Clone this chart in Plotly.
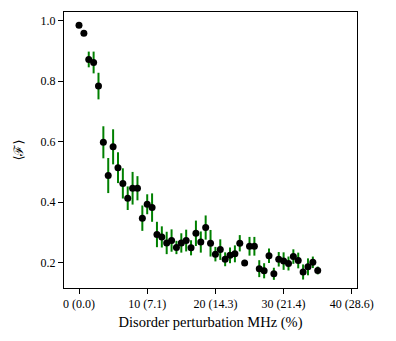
import plotly.graph_objects as go

# Disorder perturbation index (50 steps, 0 .. 35 MHz)
n_points = 50
x_max_mhz = 35.0
x_mhz = [k * x_max_mhz / (n_points - 1) for k in range(n_points)]

fidelity = [
    0.985, 0.959, 0.872, 0.862, 0.784, 0.598, 0.488, 0.583, 0.514, 0.462,
    0.413, 0.446, 0.446, 0.347, 0.393, 0.382, 0.293, 0.285, 0.265, 0.273,
    0.250, 0.265, 0.273, 0.249, 0.297, 0.268, 0.316, 0.264, 0.228, 0.243,
    0.211, 0.224, 0.229, 0.264, 0.199, 0.254, 0.254, 0.180, 0.173, 0.223,
    0.163, 0.211, 0.205, 0.197, 0.220, 0.207, 0.169, 0.186, 0.201, 0.174,
]

fidelity_err = [
    0.0, 0.0, 0.026, 0.036, 0.044, 0.053, 0.058, 0.058, 0.051, 0.050,
    0.039, 0.054, 0.040, 0.042, 0.033, 0.047, 0.042, 0.035, 0.037, 0.037,
    0.022, 0.032, 0.036, 0.025, 0.042, 0.035, 0.040, 0.044, 0.024, 0.034,
    0.023, 0.026, 0.028, 0.027, 0.010, 0.031, 0.031, 0.028, 0.025, 0.024,
    0.020, 0.024, 0.029, 0.023, 0.024, 0.026, 0.025, 0.028, 0.019, 0.013,
]

x_tick_vals = [0, 10, 20, 30, 40]
x_tick_text = ["0 (0.0)", "10 (7.1)", "20 (14.3)", "30 (21.4)", "40 (28.6)"]
y_tick_vals = [0.2, 0.4, 0.6, 0.8, 1.0]
y_tick_text = ["0.2", "0.4", "0.6", "0.8", "1.0"]

font_family = "Liberation Serif, DejaVu Serif, serif"

fig = go.Figure()
fig.add_trace(go.Scatter(
    x=x_mhz,
    y=fidelity,
    mode="markers",
    marker=dict(color="black", size=7, line=dict(width=0)),
    error_y=dict(type="data", array=fidelity_err, visible=True,
                 color="#008000", thickness=2, width=0),
    showlegend=False,
))

axis_common = dict(
    showline=True, linecolor="black", linewidth=1, mirror=True,
    ticks="outside", ticklen=5, tickwidth=1, tickcolor="black",
    showgrid=False, zeroline=False,
    tickfont=dict(family=font_family, size=12, color="black"),
)

fig.update_layout(
    width=396, height=341,
    margin=dict(l=56, r=47, t=4, b=61),
    paper_bgcolor="white", plot_bgcolor="white",
    font=dict(family=font_family, size=12, color="black"),
    xaxis=dict(
        range=[-2.2, 40.76], tickvals=x_tick_vals, ticktext=x_tick_text,
        title=dict(text="Disorder perturbation MHz (%)", standoff=6,
                   font=dict(family=font_family, size=14.5)),
        **axis_common,
    ),
    yaxis=dict(
        range=[0.116, 1.029], tickvals=y_tick_vals, ticktext=y_tick_text,
        title=dict(text="⟨ℱ⟩", standoff=14,
                   font=dict(family=font_family, size=13)),
        **axis_common,
    ),
)

fig.write_html("out.html")
